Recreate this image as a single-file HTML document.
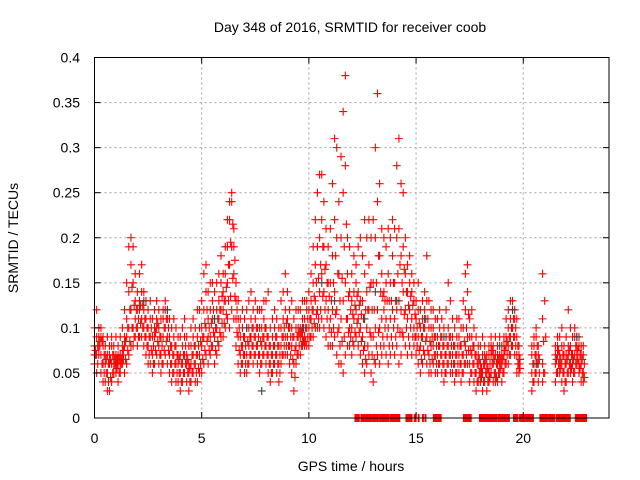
<!DOCTYPE html>
<html><head><meta charset="utf-8"><style>
body{margin:0;background:#fff}
svg{display:block;font-family:"Liberation Sans",sans-serif}
</style></head><body>
<svg id="chart" width="640" height="480" xmlns="http://www.w3.org/2000/svg">
<rect width="640" height="480" fill="#fff"/>
<text x="350" y="32" font-size="14" text-anchor="middle">Day 348 of 2016, SRMTID for receiver coob</text>
<text x="351" y="471" font-size="14" text-anchor="middle">GPS time / hours</text>
<text transform="translate(18,238) rotate(-90)" font-size="14" text-anchor="middle">SRMTID / TECUs</text>
<g id="grid"></g>
<g id="marks"></g>
<g id="axes"></g>
</svg>
<script>
const xTicks=[0,5,10,15,20];
const yTicks=[0,0.05,0.1,0.15,0.2,0.25,0.3,0.35,0.4];
const yTickLabels=["0","0.05","0.1","0.15","0.2","0.25","0.3","0.35","0.4"];
const n=null;
const lowVals=[.06,.05,.07,.05,.04,.04,.03,.03,.04,.05, .05,.04,.05,.06,.05,.06,.07,.08,.08,.09, .08,.09,.09,.08,.07,.06,.06,.05,.06,.07, .06,.05,.06,.07,.06,.05,.04,.05,.04,.04, .03,.04,.05,.04,.03,.04,.05,.04,.04,.05, .05,.06,.07,.06,.07,.08,.06,.07,.08,.09, .09,.10,.11,.10,.12,.11,.08,.06,.05,.06, .05,.05,.06,.07,.06,.07,.06,.05,.06,.07, .06,.05,.04,.05,.06,.05,.04,.06,.07,.07, .07,.06,.05,.03,.06,.07,.07,.08,.08,.08, .08,.09,.09,.10,.10,.10,.11,.10,.09,.08, .08,.08,.09,.07,.06,.06,.05,.07,.08,.08, .07,.08,.09,.08,.07,.06,.05,.06,.07,.05, .04,.06,.07,.06,.07,.08,.07,.06,.07,.08, .07,.08,.06,.07,.09,.08,.07,.08,.07,.08, .07,.06,.05,.06,.07,.06,.05,.05,.06,.05, .05,.06,.05,.04,.05,.06,.05,.05,.04,.05, .05,.04,.05,.06,.06,.04,.05,.04,.03,.04, .04,.03,.04,.03,.04,.05,.04,.04,.04,.05, .04,.05,.06,.06,.07,.08,.07,.05,.05,n, n,n,n,n,.03,.04,.05,.04,n,.04, .05,n,n,n,n,.04,.05,.05,.04,.03, .04,.05,.05,.04,.05,.06,.05,.04,.04];
const midVals=[.08,.07,.09,.07,.06,.06,.05,.06,.06,.07, .06,.06,.07,.07,.08,.09,.10,.12,.10,.11, .10,.12,.11,.10,.09,.08,.09,.07,.09,.10, .08,.07,.09,.10,.09,.07,.06,.07,.06,.06, .05,.06,.07,.06,.05,.06,.07,.06,.07,.07, .08,.09,.10,.09,.09,.11,.09,.10,.11,.12, .12,.13,.15,.17,.19,.16,.11,.09,.07,.08, .07,.07,.08,.09,.08,.09,.08,.07,.08,.09, .08,.07,.06,.07,.08,.07,.06,.08,.09,.09, .09,.08,.08,.06,.08,.09,.09,.09,.09,.10, .10,.11,.12,.13,.12,.14,.16,.14,.13,.12, .11,.12,.14,.12,.10,.11,.13,.15,.11,.10, .10,.11,.12,.11,.10,.09,.08,.10,.12,.09, .09,.10,.12,.10,.11,.12,.11,.10,.11,.12, .11,.12,.13,.12,.14,.12,.11,.12,.11,.10, .09,.09,.08,.09,.10,.09,.07,.08,.08,.07, .07,.08,.07,.06,.07,.08,.07,.07,.06,.07, .07,.06,.07,.08,.09,.06,.07,.06,.05,.06, .05,.05,.06,.05,.05,.07,.06,.05,.06,.06, .06,.07,.08,.08,.09,.10,.09,.07,.06,n, n,n,n,n,.05,.06,.07,.06,n,.06, .13,n,n,n,n,.06,.07,.06,.06,.05, .06,.07,.06,.06,.07,.07,.06,.06,.05];
const upperVals=[.07,.09,.08,.10,.08,.07,.07,.07,.08,.06, .07,.07,.06,.08,.09,.11,.14,.17,.15,.13, .12,.13,.14,.12,.11,.10,.11,.09,.10,.11, .10,.09,.11,.12,.11,.09,.08,.09,.08,.07, .07,.08,.09,.07,.06,.08,.09,.08,.09,.10, .10,.12,.14,.11,.12,.13,.11,.12,.13,.15, .14,.16,.19,.22,.24,.19,.13,.11,.09,.10, .09,.10,.10,.11,.10,.11,.10,.10,.10,.11, .10,.09,.08,.09,.10,.09,.08,.10,.11,.12, .11,.10,.10,.09,.10,.10,.10,.11,.11,.12, .12,.13,.15,.17,.19,.20,.22,.19,.17,.15, .15,.18,.22,.20,.16,.20,.25,.28,.16,.14, .13,.14,.15,.14,.13,.13,.16,.14,.17,.15, .15,.20,.24,.18,.16,.14,.15,.16,.15,.18, .15,.20,.21,.18,.19,.16,.14,.15,.14,.13, .11,.12,.10,.11,.12,.13,.10,.10,.10,.09, .09,.10,.09,.08,.09,.10,.09,.09,.08,.09, .09,.08,.10,.12,.14,.09,.09,.08,.07,.07, .06,.07,.07,.06,.07,.08,.07,.07,.07,.07, .07,.08,.09,.10,.11,.12,.11,.09,.07,n, n,n,n,n,.07,.08,.09,.07,n,.11, n,n,n,n,n,.07,.08,.07,.08,.07, .07,.08,.08,.07,.09,.08,.08,.07,.07];
const highVals=[.10,.12,.10,.09,.09,.08,.09,.08,.09,.08, .09,.08,.09,.10,.12,.15,.19,.20,.19,.16, .14,.16,.17,.14,.13,.12,.13,.11,.12,.13, .12,.11,.12,.13,.12,.11,.10,.11,.10,.09, .09,.10,.11,.09,.08,.10,.11,.10,.12,.12, .13,.16,.17,.14,.15,.15,.14,.15,.16,.18, .16,.19,.22,.24,.25,.21,.15,.13,.11,.12, .11,.12,.13,.14,.12,.13,.12,.12,.12,.13, .13,.14,.10,.11,.12,.11,.10,.13,.14,.16, .14,.12,.13,.11,.12,.12,.12,.13,.13,.13, .14,.16,.19,.22,.25,.27,.27,.24,.21,.19, .21,.26,.31,.30,.24,.29,.34,.38,.20,.19, .16,.18,.17,.19,.20,.18,.22,.20,.22,.20, .22,.30,.36,.26,.21,.20,.19,.21,.20,.22, .21,.28,.31,.26,.25,.20,.17,.18,.16,.15, .13,.15,.12,.13,.14,.18,.13,.12,.12,.11, .11,.12,.11,.10,.12,.15,.13,.11,.10,.11, .11,.10,.13,.16,.17,.11,.12,.10,.09,.08, .08,.09,.08,.07,.08,.09,.08,.09,.08,.09, .08,.09,.11,.12,.13,.13,.12,.11,.08,n, n,n,n,n,.08,.09,.10,.08,n,.16, n,n,n,n,n,.08,.09,.09,.10,.08, .09,.12,.10,.09,.10,.09,.09,.08,.08];
const zeroSpans=[[12.15,12.35],[12.43,12.98],[13.0,13.24],[13.3,13.75],[13.8,14.27],[14.53,14.81],[14.92,15.0],[15.1,15.15],[15.3,15.35],[15.42,15.47],[15.81,16.17],[17.21,17.6],[17.96,18.43],[18.45,18.8],[18.83,19.35],[19.55,19.77],[19.83,20.5],[20.78,21.12],[21.15,21.5],[21.55,22.2],[22.43,22.95]];
const darkHours=[2.3,3.4,5.6,7.1,7.8,9.7,10.6,11.2,12.6,13.1,14.1,15.4,16.3,18.9,19.5,20.6,22.5];
const darkVals=[.13,.12,.11,.1,.03,.10,.15,.13,.11,.14,.13,.11,.09,.08,.12,.06,.09];

const X0=94.5,X1=609,Y0=418,Y1=57.5;
const xs=h=>X0+h/24*(X1-X0);
const ys=v=>Y0-v/0.4*(Y0-Y1);
const NS="http://www.w3.org/2000/svg";
function mk(tag,parent){const e=document.createElementNS(NS,tag);parent.appendChild(e);return e;}
const grid=document.getElementById('grid'),axes=document.getElementById('axes'),marks=document.getElementById('marks');
xTicks.forEach(t=>{
  const x=xs(t);
  if(t>0){const l=mk('line',grid);
  l.setAttribute('x1',x);l.setAttribute('x2',x);l.setAttribute('y1',Y1);l.setAttribute('y2',Y0);l.setAttribute('stroke','#a0a0a0');l.setAttribute('stroke-dasharray','2,3');}
  const tk=mk('line',axes);
  tk.setAttribute('x1',x);tk.setAttribute('x2',x);tk.setAttribute('y1',Y0);tk.setAttribute('y2',Y0-6);tk.setAttribute('stroke','#000');
  const tk2=mk('line',axes);tk2.setAttribute('x1',x);tk2.setAttribute('x2',x);tk2.setAttribute('y1',Y1);tk2.setAttribute('y2',Y1+6);tk2.setAttribute('stroke','#000');
  const tx=mk('text',axes);
  tx.setAttribute('x',x);tx.setAttribute('y',443);tx.setAttribute('font-size','14');tx.setAttribute('text-anchor','middle');tx.textContent=t;
});
yTicks.forEach((v,i)=>{
  const y=ys(v);
  if(i>0&&i<yTicks.length-1){const l=mk('line',grid);
  l.setAttribute('x1',X0);l.setAttribute('x2',X1);l.setAttribute('y1',y);l.setAttribute('y2',y);l.setAttribute('stroke','#a0a0a0');l.setAttribute('stroke-dasharray','2,3');}
  const tk=mk('line',axes);
  tk.setAttribute('x1',X0);tk.setAttribute('x2',X0+6);tk.setAttribute('y1',y);tk.setAttribute('y2',y);tk.setAttribute('stroke','#000');
  const tk2=mk('line',axes);tk2.setAttribute('x1',X1);tk2.setAttribute('x2',X1-6);tk2.setAttribute('y1',y);tk2.setAttribute('y2',y);tk2.setAttribute('stroke','#000');
  const tx=mk('text',axes);
  tx.setAttribute('x',80);tx.setAttribute('y',y+5);tx.setAttribute('font-size','14');tx.setAttribute('text-anchor','end');tx.textContent=yTickLabels[i];
});
const fr=mk('rect',axes);


fr.setAttribute('x',X0);fr.setAttribute('y',Y1);fr.setAttribute('width',X1-X0);fr.setAttribute('height',Y0-Y1);fr.setAttribute('fill','none');fr.setAttribute('stroke','#000');
function plus(h,v,col){
  const x=xs(h),y=ys(v);
  const p=mk('path',marks);
  
  
  p.setAttribute('d',`M${x-4},${y}h8M${x},${y-4}v8`);
  p.setAttribute('stroke',col);p.setAttribute('stroke-width','1.1');
}
[lowVals,midVals,upperVals,highVals].forEach(arr=>arr.forEach((v,i)=>{if(v!==null)plus(i/10,v,'#ff0000');}));
[lowVals,upperVals].forEach(arr=>arr.forEach((v,i)=>{if(v!==null){const w=(midVals[i]!==null?(v+midVals[i])/2:v);plus(i/10+0.05,w,'#ff0000');}}));
darkHours.forEach((h,i)=>plus(h,darkVals[i],'#404040'));
zeroSpans.forEach(s=>{for(let h=s[0];h<=s[1]+1e-6;h+=0.04)plus(h,0,'#ff0000');});
</script>
</body></html>
